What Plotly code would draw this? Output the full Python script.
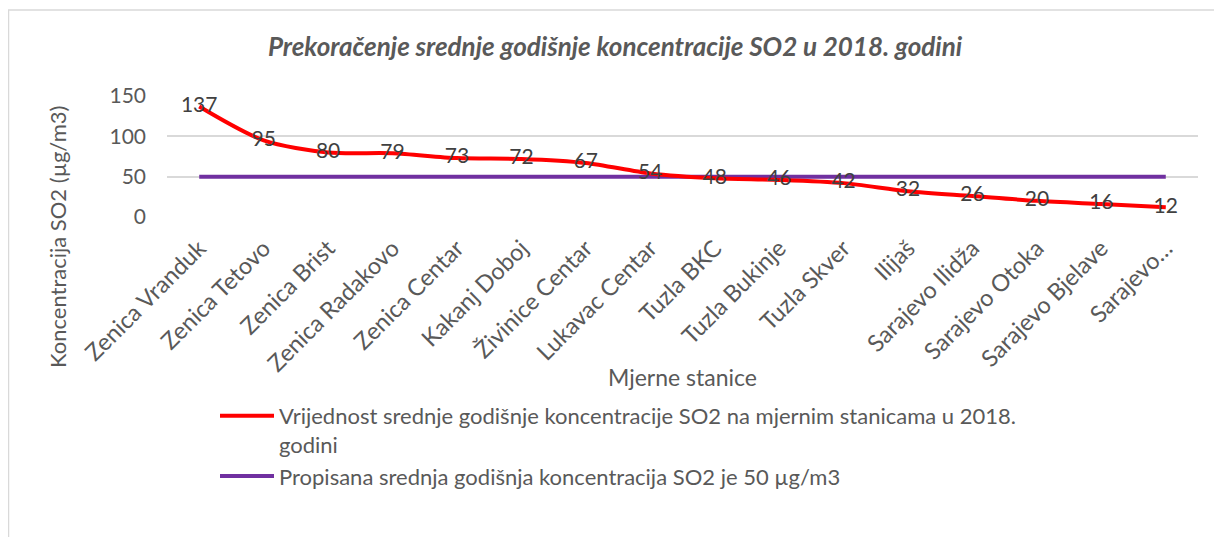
import plotly.graph_objects as go

stations = ["Zenica Vranduk", "Zenica Tetovo", "Zenica Brist", "Zenica Radakovo",
            "Zenica Centar", "Kakanj Doboj", "Živinice Centar", "Lukavac Centar",
            "Tuzla BKC", "Tuzla Bukinje", "Tuzla Skver", "Ilijaš", "Sarajevo Ilidža",
            "Sarajevo Otoka", "Sarajevo Bjelave", "Sarajevo…"]
values = [137, 95, 80, 79, 73, 72, 67, 54, 48, 46, 42, 32, 26, 20, 16, 12]
limit = [50] * len(stations)

name_values = "Vrijednost srednje godišnje koncentracije SO2 na mjernim stanicama u 2018.<br>godini"
name_limit = "Propisana srednja godišnja koncentracija SO2 je 50 µg/m3"

FONT = "Lato"
OFF = 8  # page body margin offset
SW, SH = 1222, 537  # screen size
W, H = SW - OFF, SH - OFF
# plot area in screen coordinates
PX0, PX1, PY0, PY1 = 167, 1198, 96, 217
L, R, T, B = PX0 - OFF, SW - PX1, PY0 - OFF, SH - PY1
pw, ph = PX1 - PX0, PY1 - PY0

def px(x):
    return (x - PX0) / pw

def py(y):
    return (PY1 - y) / ph

fig = go.Figure()
fig.add_trace(go.Scatter(
    x=stations, y=limit, mode="lines", name=name_limit,
    line=dict(color="#7030A0", width=4),
))
fig.add_trace(go.Scatter(
    x=stations, y=values, mode="lines+text", name=name_values,
    line=dict(color="#FF0000", width=4, shape="spline", smoothing=0.8),
    text=[str(v) for v in values], textposition="middle center",
    textfont=dict(family=FONT, size=21, color="#404040"),
))

fig.update_layout(
    width=W, height=H,
    margin=dict(l=L, r=R, t=T, b=B, autoexpand=False),
    paper_bgcolor="white", plot_bgcolor="white",
    font=dict(family=FONT, size=23, color="#595959"),
    title=dict(text="<b><i>Prekoračenje srednje godišnje koncentracije SO2 u 2018. godini</i></b>",
               x=((268 + 962) / 2 - OFF) / W, xanchor="center",
               y=1 - (47 - OFF) / H, yanchor="middle",
               font=dict(family=FONT, size=26, color="#595959")),
    showlegend=True,
    legend=dict(x=px(215), xanchor="left", y=py(395), yanchor="top",
                traceorder="reversed", font=dict(family=FONT, size=22, color="#595959"),
                bgcolor="rgba(0,0,0,0)", tracegroupgap=0, itemwidth=54, valign="top"),
    xaxis=dict(tickangle=-45, showgrid=False, showline=False, zeroline=False,
               automargin=False,
               tickfont=dict(family=FONT, size=23.5, color="#595959"),
               ticks="", ticklabelstandoff=12, range=[-0.5, len(stations) - 0.5]),
    yaxis=dict(range=[0, 150], tickvals=[0, 50, 100, 150], showgrid=True,
               automargin=False,
               gridcolor="#D9D9D9", gridwidth=1.5, zeroline=False, showline=False,
               tickfont=dict(family=FONT, size=21, color="#595959"),
               ticklabelstandoff=20),
    annotations=[
        dict(text="Mjerne stanice", x=px(682), y=py(377), xref="paper", yref="paper",
             showarrow=False, font=dict(family=FONT, size=23, color="#595959"),
             xanchor="center", yanchor="middle"),
        dict(text="Koncentracija SO2 (µg/m3)", x=px(57), y=py(237), xref="paper", yref="paper",
             showarrow=False, textangle=-90, font=dict(family=FONT, size=22, color="#595959"),
             xanchor="center", yanchor="middle"),
    ],
    shapes=[
        dict(type="line", xref="paper", yref="paper", x0=px(8), x1=px(1222), y0=py(10), y1=py(10),
             line=dict(color="#D9D9D9", width=1.5)),
        dict(type="line", xref="paper", yref="paper", x0=px(8.5), x1=px(8.5), y0=py(10), y1=py(537),
             line=dict(color="#D9D9D9", width=1.5)),
    ],
)

fig.write_html("out.html")
